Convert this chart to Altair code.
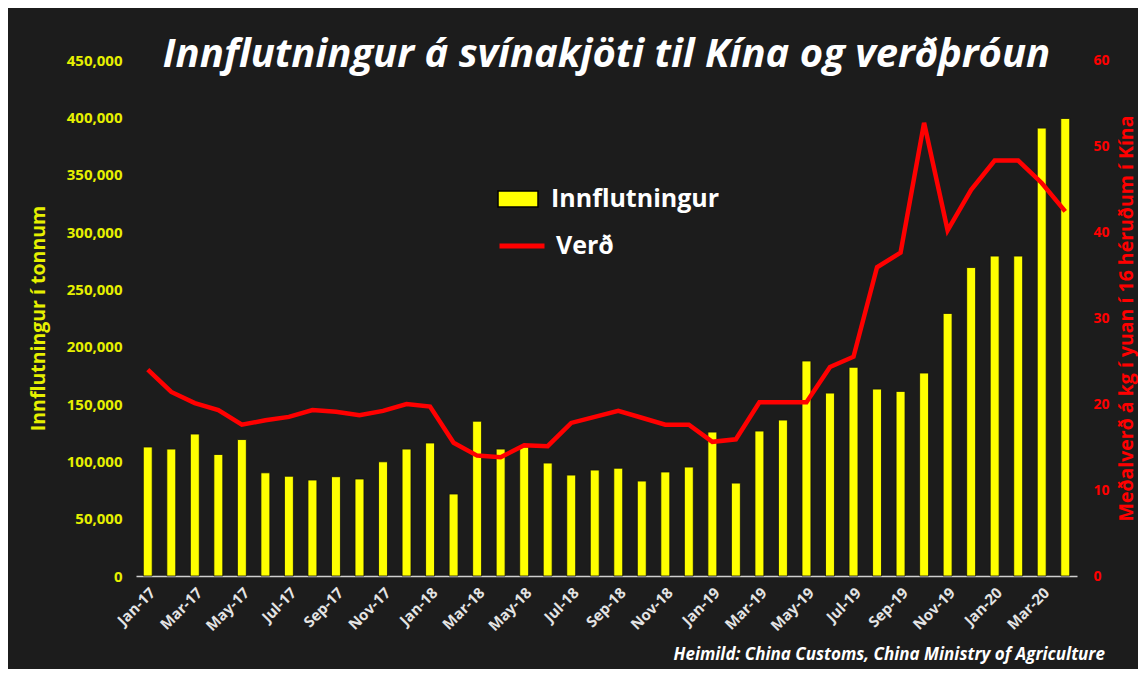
import altair as alt
import pandas as pd

months = ["Jan-17", "Feb-17", "Mar-17", "Apr-17", "May-17", "Jun-17", "Jul-17", "Aug-17",
          "Sep-17", "Oct-17", "Nov-17", "Dec-17", "Jan-18", "Feb-18", "Mar-18", "Apr-18",
          "May-18", "Jun-18", "Jul-18", "Aug-18", "Sep-18", "Oct-18", "Nov-18", "Dec-18",
          "Jan-19", "Feb-19", "Mar-19", "Apr-19", "May-19", "Jun-19", "Jul-19", "Aug-19",
          "Sep-19", "Oct-19", "Nov-19", "Dec-19", "Jan-20", "Feb-20", "Mar-20", "Apr-20"]

imports_tonnes = [112500, 110700, 123800, 106000, 119000, 90000, 87000, 83700, 86600, 84600,
                  99600, 110700, 116000, 71500, 135000, 110700, 112500, 98500, 88000, 92400,
                  94000, 82800, 90700, 95000, 125500, 81000, 126400, 136000, 187500, 159500,
                  182000, 163000, 161000, 177000, 229000, 269000, 279000, 279000, 390600, 399000]

price_yuan = [24.0, 21.4, 20.1, 19.3, 17.6, 18.1, 18.5, 19.3, 19.1, 18.7, 19.2, 20.0,
              19.7, 15.5, 14.0, 13.8, 15.2, 15.1, 17.8, 18.5, 19.2, 18.4, 17.6, 17.6,
              15.6, 15.9, 20.2, 20.2, 20.2, 24.3, 25.5, 35.9, 37.6, 52.7, 40.2, 44.9,
              48.3, 48.3, 45.7, 42.4]

x_tick_labels = months[::2]
left_ticks = list(range(0, 450001, 50000))
right_ticks = list(range(0, 61, 10))

title_text = "Innflutningur á svínakjöti til Kína og verðþróun"
left_title = "Innflutningur í tonnum"
right_title = "Meðalverð á kg í yuan í 16 héruðum í Kína"
bar_label = "Innflutningur"
line_label = "Verð"
source_note = "Heimild: China Customs, China Ministry of Agriculture"

YELLOW = "#FFFF00"
YELLOW_TXT = "#E6F000"
RED = "#FF0000"
BG = "#1c1c1c"
FONT = "Open Sans"

df = pd.DataFrame({
    "month": months,
    "imports": imports_tonnes,
    "price": price_yuan,
    "bar_lbl": bar_label,
    "line_lbl": line_label,
})

x_enc = alt.X(
    "month:N", sort=months,
    scale=alt.Scale(paddingInner=0.62, paddingOuter=0.31),
    axis=alt.Axis(values=x_tick_labels, labelAngle=315, labelColor="#e4e4e4",
                  labelFont=FONT, labelFontWeight="bold", labelFontSize=15,
                  ticks=False, domainColor="#cfcfcf", domainWidth=1.5,
                  labelPadding=9, title=None, grid=False),
)

bars = alt.Chart(df).mark_bar(stroke="#111111", strokeWidth=0.8).encode(
    x=x_enc,
    y=alt.Y("imports:Q", scale=alt.Scale(domain=[0, 450000], nice=False),
            axis=alt.Axis(values=left_ticks, format=",d", labelColor=YELLOW_TXT,
                          labelFont=FONT, labelFontWeight="bold", labelFontSize=15,
                          domain=False, ticks=False, grid=False, labelPadding=14,
                          title=left_title, titleColor=YELLOW_TXT, titleFont=FONT,
                          titleFontSize=19.5, titleFontWeight="bold", titlePadding=18)),
    color=alt.Color("bar_lbl:N",
                    scale=alt.Scale(domain=[bar_label], range=[YELLOW]),
                    legend=alt.Legend(orient="none", legendX=361, legendY=118, title=None,
                                      symbolType="M-1,-0.4H1V0.4H-1Z", symbolSize=1600,
                                      symbolStrokeColor="#000000", symbolStrokeWidth=1.5,
                                      labelColor="white", labelFont=FONT, labelFontSize=25,
                                      labelFontWeight="bold", labelOffset=12, labelLimit=400)),
)

line = alt.Chart(df).mark_line(strokeWidth=4.5).encode(
    x=x_enc,
    y=alt.Y("price:Q", scale=alt.Scale(domain=[0, 60], nice=False),
            axis=alt.Axis(orient="right", values=right_ticks, labelColor=RED,
                          labelFont=FONT, labelFontWeight="bold", labelFontSize=14,
                          domain=False, ticks=False, grid=False, labelPadding=16,
                          title=right_title, titleColor=RED, titleFont=FONT,
                          titleFontSize=19.5, titleFontWeight="bold", titlePadding=27,
                          titleAngle=270)),
    stroke=alt.Stroke("line_lbl:N",
                      scale=alt.Scale(domain=[line_label], range=[RED]),
                      legend=alt.Legend(orient="none", legendX=361, legendY=161, title=None,
                                        symbolType="stroke", symbolSize=2025,
                                        symbolStrokeWidth=5,
                                        labelColor="white", labelFont=FONT, labelFontSize=25,
                                        labelFontWeight="bold", labelOffset=9, labelLimit=400)),
)

note = alt.Chart(pd.DataFrame({"t": [source_note]})).mark_text(
    align="right", baseline="alphabetic", font=FONT, fontSize=17,
    fontWeight="bold", fontStyle="italic", color="white",
).encode(x=alt.value(969), y=alt.value(600), text="t:N")

chart = alt.layer(bars, line, note).resolve_scale(
    y="independent", color="independent", stroke="independent"
).properties(
    width=941, height=516,
    title=alt.TitleParams(text=title_text, font=FONT, fontSize=40, fontWeight="bold",
                          fontStyle="italic", color="white", anchor="middle",
                          baseline="alphabetic", offset=0, dy=54),
    background=BG,
    padding={"left": 128, "top": 52, "right": 61, "bottom": 93},
    autosize=alt.AutoSizeParams(type="none"),
).configure_view(stroke=None)

chart.save("out.html", embed_options={"renderer": "svg", "actions": False})
